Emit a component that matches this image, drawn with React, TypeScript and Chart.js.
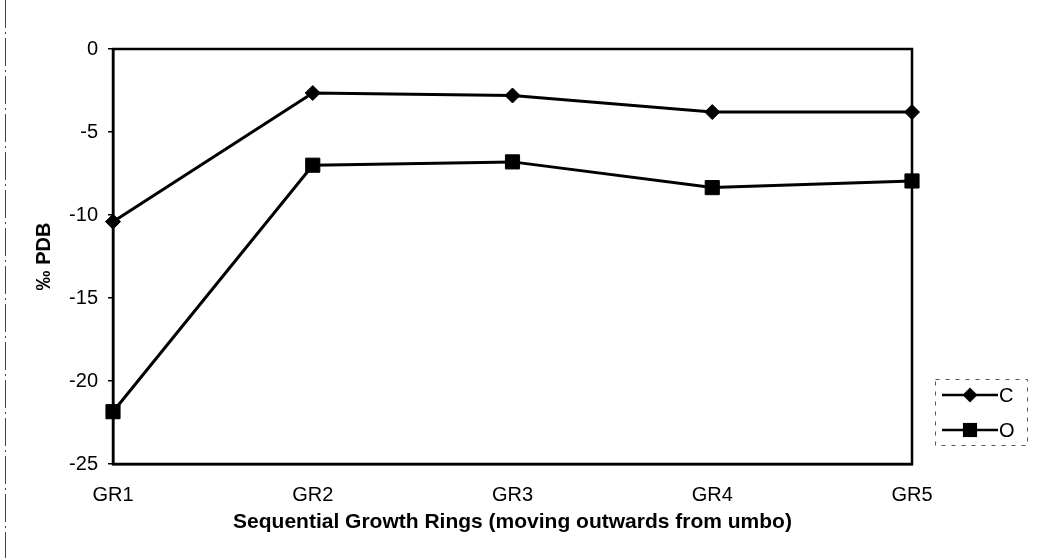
import React, { useEffect, useRef } from "react";
import { Chart, registerables } from "chart.js";

Chart.register(...registerables);

const categories = ["GR1", "GR2", "GR3", "GR4", "GR5"];
const seriesC = [-10.4, -2.65, -2.8, -3.8, -3.8];
const seriesO = [-21.85, -7.0, -6.8, -8.35, -7.95];
const yMin = -25;
const yMax = 0;
const yStep = 5;
const xTitle = "Sequential Growth Rings (moving outwards from umbo)";
const yTitle = "‰ PDB";
const seriesLabels = ["C", "O"];

const FONT = "'Liberation Sans', Arial, Helvetica, sans-serif";

const framePlugin = {
  id: "frame",
  afterDatasetsDraw(chart: any) {
    const { ctx, chartArea } = chart;
    ctx.save();
    ctx.strokeStyle = "#000";
    ctx.lineWidth = 2.5;
    ctx.strokeRect(chartArea.left, chartArea.top, chartArea.right - chartArea.left, chartArea.bottom - chartArea.top);
    // scan edge line at far left
    ctx.lineWidth = 1;
    ctx.strokeStyle = "#444";
    ctx.setLineDash([28, 4, 2, 4]);
    ctx.beginPath();
    ctx.moveTo(5.5, 0);
    ctx.lineTo(5.5, 558);
    ctx.stroke();
    ctx.restore();
  },
};

const legendPlugin = {
  id: "boxLegend",
  afterDraw(chart: any) {
    const { ctx } = chart;
    const x0 = 935;
    const y0 = 379;
    const w = 92;
    const h = 66;
    ctx.save();
    ctx.strokeStyle = "#555";
    ctx.lineWidth = 1;
    ctx.setLineDash([4, 6]);
    ctx.strokeRect(x0 + 0.5, y0 + 0.5, w, h);
    ctx.setLineDash([]);
    chart.data.datasets.forEach((ds: any, i: number) => {
      const cy = y0 + 16 + i * 35;
      ctx.strokeStyle = ds.borderColor;
      ctx.fillStyle = ds.borderColor;
      ctx.lineWidth = 2.5;
      ctx.beginPath();
      ctx.moveTo(x0 + 7, cy);
      ctx.lineTo(x0 + 63, cy);
      ctx.stroke();
      const mx = x0 + 35;
      const r = ds.pointRadius;
      ctx.beginPath();
      if (ds.pointStyle === "rectRot") {
        ctx.moveTo(mx - r, cy);
        ctx.lineTo(mx, cy - r);
        ctx.lineTo(mx + r, cy);
        ctx.lineTo(mx, cy + r);
        ctx.closePath();
      } else {
        const s = Math.SQRT1_2 * r;
        ctx.rect(mx - s, cy - s, 2 * s, 2 * s);
      }
      ctx.fill();
      ctx.fillStyle = "#000";
      ctx.font = `20px ${FONT}`;
      ctx.textBaseline = "middle";
      ctx.textAlign = "left";
      ctx.fillText(ds.label, x0 + 64, cy + 1);
    });
    ctx.restore();
  },
};

export default function App() {
  const ref = useRef<HTMLCanvasElement>(null);

  useEffect(() => {
    const chart = new Chart(ref.current!, {
      type: "line",
      data: {
        labels: categories,
        datasets: [
          {
            label: seriesLabels[0],
            data: seriesC,
            borderColor: "#000",
            backgroundColor: "#000",
            borderWidth: 3,
            pointStyle: "rectRot",
            pointRadius: 7.5,
            pointBorderWidth: 1,
            tension: 0,
          },
          {
            label: seriesLabels[1],
            data: seriesO,
            borderColor: "#000",
            backgroundColor: "#000",
            borderWidth: 3,
            pointStyle: "rect",
            pointRadius: 10,
            pointBorderWidth: 1,
            tension: 0,
          },
        ],
      },
      options: {
        responsive: false,
        animation: false,
        layout: { padding: { left: 0, top: 49, right: 134, bottom: 0 } },
        plugins: {
          legend: { display: false },
          tooltip: { enabled: false },
        },
        scales: {
          x: {
            type: "category",
            offset: false,
            grid: { display: false, drawTicks: false },
            border: { display: true, color: "#000", width: 2.5 },
            ticks: {
              color: "#000",
              padding: 19,
              font: { family: FONT, size: 20 },
              maxRotation: 0,
            },
            title: {
              display: true,
              text: xTitle,
              color: "#000",
              font: { family: FONT, size: 21, weight: "bold" },
              padding: { top: 23, bottom: 23 },
            },
            afterFit(scale: any) {
              scale.height = 94;
            },
          },
          y: {
            min: yMin,
            max: yMax,
            ticks: {
              stepSize: yStep,
              color: "#000",
              padding: 10,
              font: { family: FONT, size: 20 },
            },
            grid: { drawOnChartArea: false, drawTicks: true, tickLength: 5, color: "#000", lineWidth: 1.5 },
            border: { display: true, color: "#000", width: 2.5 },
            title: {
              display: true,
              text: yTitle,
              color: "#000",
              font: { family: FONT, size: 20, weight: "bold" },
              padding: { top: 32, bottom: 32 },
            },
            afterFit(scale: any) {
              scale.width = 113;
            },
          },
        },
      },
      plugins: [framePlugin, legendPlugin],
    } as any);
    return () => chart.destroy();
  }, []);

  return (
    <div style={{ position: "fixed", left: 0, top: 0, width: 1046, height: 558, background: "#fff" }}>
      <canvas ref={ref} width={1046} height={558} style={{ display: "block", width: 1046, height: 558 }} />
    </div>
  );
}
